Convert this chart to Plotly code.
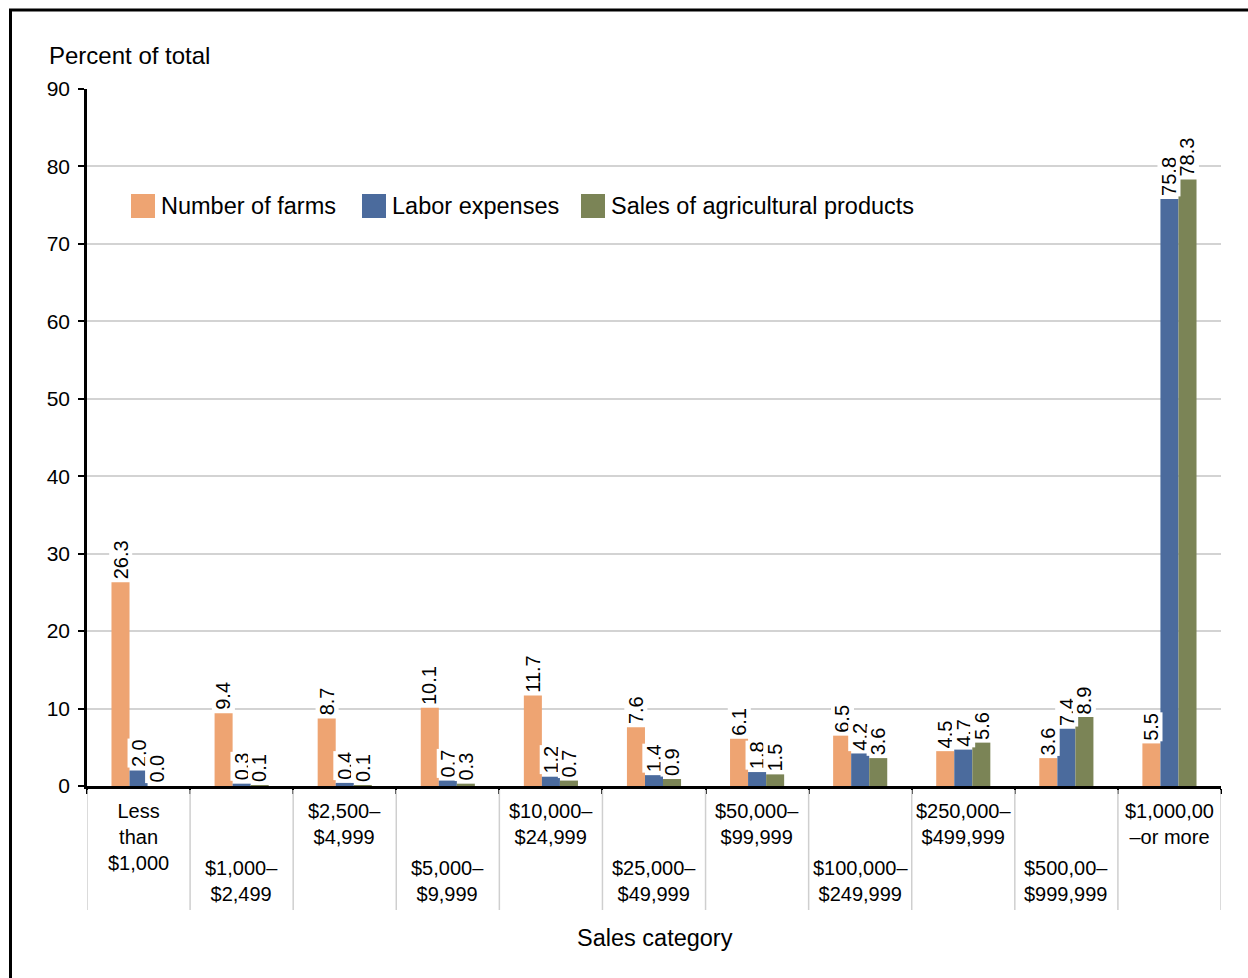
import plotly.graph_objects as go

categories = [
    "Less<br>than<br>$1,000", "$1,000–<br>$2,499", "$2,500–<br>$4,999", "$5,000–<br>$9,999",
    "$10,000–<br>$24,999", "$25,000–<br>$49,999", "$50,000–<br>$99,999", "$100,000–<br>$249,999",
    "$250,000–<br>$499,999", "$500,00–<br>$999,999", "$1,000,00<br>–or more",
]
farms = [26.3, 9.4, 8.7, 10.1, 11.7, 7.6, 6.1, 6.5, 4.5, 3.6, 5.5]
labor = [2.0, 0.3, 0.4, 0.7, 1.2, 1.4, 1.8, 4.2, 4.7, 7.4, 75.8]
sales = [0.0, 0.1, 0.1, 0.3, 0.7, 0.9, 1.5, 3.6, 5.6, 8.9, 78.3]
series_names = ["Number of farms", "Labor expenses", "Sales of agricultural products"]
colors = ["#EEA472", "#4B6B9D", "#7B8456"]
y_ticks = [0, 10, 20, 30, 40, 50, 60, 70, 80, 90]

FONT = "Liberation Sans"
W, H = 1248, 978
L, R, T, B = 87, 27, 89, 192
PW, PH = W - L - R, H - T - B
BW = 0.175

def px_x(px):
    return (px - L) / PW

def px_y(py):
    return (H - B - py) / PH

idx = list(range(len(categories)))
fig = go.Figure()
all_series = [farms, labor, sales]
for k, (name, vals, col) in enumerate(zip(series_names, all_series, colors)):
    fig.add_trace(go.Bar(x=idx, y=vals, name=name, marker=dict(color=col, line=dict(width=0)),
                         showlegend=False, hoverinfo="y"))

annotations = []
for k, vals in enumerate(all_series):
    for i, v in zip(idx, vals):
        annotations.append(dict(x=i + (k - 1) * BW, y=v, xref="x", yref="y", text=f"{v:.1f}",
                                showarrow=False, textangle=-90, xanchor="center", yanchor="bottom",
                                yshift=2, bgcolor="white", borderpad=0,
                                font=dict(family=FONT, size=20, color="black")))

# category labels, staggered
for i, c in enumerate(categories):
    shift = 12 if i % 2 == 0 else 69
    annotations.append(dict(x=i, y=0, xref="x", yref="y", text=c, showarrow=False,
                            xanchor="center", yanchor="top", yshift=-shift,
                            font=dict(family=FONT, size=20, color="black")))

annotations.append(dict(x=px_x(47), y=px_y(56), xref="paper", yref="paper", text="Percent of total",
                        showarrow=False, xanchor="left", yanchor="middle",
                        font=dict(family=FONT, size=24, color="black")))
annotations.append(dict(x=px_x(655), y=px_y(938), xref="paper", yref="paper", text="Sales category",
                        showarrow=False, xanchor="center", yanchor="middle",
                        font=dict(family=FONT, size=23.5, color="black")))

shapes = []
# category separators below axis
for j in range(len(categories) + 1):
    shapes.append(dict(type="line", xref="x", yref="paper", x0=j - 0.5, x1=j - 0.5,
                       y0=px_y(790), y1=px_y(910), line=dict(color="#CFCFCF", width=1.5)))

# custom legend
leg_x = [131, 362, 581]
for name, col, lx in zip(series_names, colors, leg_x):
    shapes.append(dict(type="rect", xref="paper", yref="paper", x0=px_x(lx), x1=px_x(lx + 24),
                       y0=px_y(218), y1=px_y(194), fillcolor=col, line=dict(width=0)))
    annotations.append(dict(x=px_x(lx + 28), y=px_y(206), xref="paper", yref="paper", text=name,
                            showarrow=False, xanchor="left", yanchor="middle",
                            font=dict(family=FONT, size=23.5, color="black")))

# outer frame
shapes.append(dict(type="rect", xref="paper", yref="paper", x0=px_x(10.5), x1=px_x(1300),
                   y0=px_y(1100), y1=px_y(10), line=dict(color="black", width=3),
                   fillcolor="rgba(0,0,0,0)", layer="above"))

fig.update_layout(
    width=W, height=H,
    margin=dict(l=L, r=R, t=T, b=B, pad=0),
    paper_bgcolor="white", plot_bgcolor="white",
    barmode="group", bargap=1 - 3 * BW, bargroupgap=0,
    annotations=annotations, shapes=shapes,
    font=dict(family=FONT, size=20, color="black"),
    xaxis=dict(range=[-0.5, len(categories) - 0.5], tickmode="array",
               tickvals=[j - 0.5 for j in range(len(categories) + 1)],
               ticktext=["" for _ in range(len(categories) + 1)],
               ticks="outside", ticklen=5, tickwidth=2, tickcolor="black",
               showline=True, linecolor="black", linewidth=2.5, showgrid=False, zeroline=False,
               fixedrange=True),
    yaxis=dict(range=[0, 90], tickvals=y_ticks, ticks="outside", ticklen=6, tickwidth=2,
               tickcolor="black", showline=True, linecolor="black", linewidth=2.5,
               showgrid=True, gridcolor="#D3D3D3", gridwidth=1.5, zeroline=False,
               ticklabelstandoff=4, tickfont=dict(family=FONT, size=21, color="black"),
               fixedrange=True),
)

fig.write_html("out.html")
